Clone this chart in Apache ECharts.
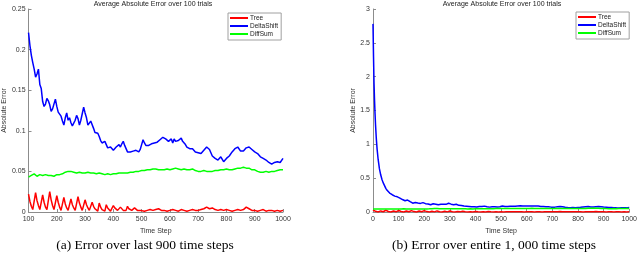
<!DOCTYPE html>
<html><head><meta charset="utf-8">
<script src="https://cdn.jsdelivr.net/npm/echarts@6/dist/echarts.min.js"></script>
<style>html,body{margin:0;padding:0;background:#fff}#c{width:640px;height:257px}</style>
</head><body><div id="c"></div>
<script>
// ---------- data ----------
const seriesNames = ['Tree', 'DeltaShift', 'DiffSum'];
const chartTitle = 'Average Absolute Error over 100 trials';
const captionA = '(a) Error over last 900 time steps';
const captionB = '(b) Error over entire 1, 000 time steps';

// DeltaShift, steps 100..695 every 5
const deltaShiftA = [
 .221,.205,.193,.184,.176,.166,.170,.176,.157,.152,
 .136,.130,.133,.140,.137,.132,.124,.127,.128,.139,
 .130,.123,.121,.118,.112,.107,.116,.122,.113,.116,
 .110,.106,.108,.113,.119,.115,.107,.113,.121,.129,
 .122,.116,.107,.106,.112,.114,.103,.098,.097,.097,
 .093,.088,.085,.086,.087,.083,.079,.078,.080,.079,
 .076,.075,.080,.082,.083,.080,.084,.087,.082,.078,
 .074,.072,.074,.076,.075,.077,.076,.075,.074,.077,
 .083,.089,.085,.082,.084,.082,.081,.084,.082,.085,
 .087,.086,.085,.089,.091,.092,.091,.090,.089,.087,
 .089,.090,.085,.090,.087,.087,.088,.090,.091,.087,
 .085,.083,.080,.081,.078,.079,.078,.076,.074,.072];
// DeltaShift, steps 700..1000 every 10
const deltaShiftB = [
 .073,.072,.076,.080,.077,.069,.066,.064,.068,.062,
 .066,.069,.074,.078,.080,.075,.075,.079,.080,.077,
 .074,.072,.068,.066,.064,.061,.059,.061,.062,.061,
 .066];
// DiffSum, steps 100..1000 every 10
const diffSumLate = [
 .043,.045,.047,.044,.046,.045,.046,.045,.045,.044,
 .046,.046,.047,.049,.050,.050,.049,.048,.049,.048,
 .048,.049,.048,.048,.047,.048,.047,.046,.047,.046,
 .047,.047,.048,.048,.048,.048,.049,.049,.050,.050,
 .051,.051,.052,.052,.053,.053,.052,.052,.052,.053,
 .052,.053,.054,.053,.052,.053,.052,.052,.053,.051,
 .050,.050,.051,.050,.050,.050,.051,.051,.052,.052,
 .053,.052,.052,.053,.054,.054,.055,.054,.054,.052,
 .052,.050,.049,.049,.050,.049,.050,.050,.051,.052,
 .052];
// Tree, steps 100..495 every 5
const treeTeeth = [
 .022,.013,.007,.003,.001, .024,.014,.008,.003,.001,
 .021,.012,.006,.003,.001, .025,.015,.008,.003,.001,
 .020,.012,.006,.002,.001, .018,.010,.005,.002,.001,
 .016,.009,.005,.002,.001, .019,.011,.006,.002,.001,
 .015,.009,.005,.002,.001, .012,.007,.004,.002,.001,
 .011,.006,.003,.002,.001, .009,.005,.003,.001,.001,
 .008,.005,.003,.002,.001, .006,.004,.002,.001,.002,
 .007,.004,.002,.002,.001, .005,.003,.002,.001,.002];
// Tree, steps 500..1000 every 10
const treeTail = [
 .002,.001,.002,.003,.002,.003,.004,.002,.002,.001,
 .002,.003,.002,.001,.003,.002,.001,.002,.003,.002,
 .002,.003,.004,.006,.004,.005,.003,.002,.003,.002,
 .003,.002,.001,.002,.003,.002,.003,.006,.004,.002,
 .002,.001,.002,.003,.001,.002,.002,.001,.002,.001,
 .002];
// early part (right chart only)
const deltaShiftEarlySteps = [0,2,4,6,8,10,13,16,20,25,30,35,40,45,50,55,60,65,70,75,80,85,90,95];
const deltaShiftEarly = [2.78,2.3,1.9,1.65,1.45,1.28,1.08,0.93,0.78,0.64,0.55,0.48,0.43,0.39,0.35,0.32,0.30,0.28,0.265,0.255,0.245,0.235,0.228,0.224];
// Tree steps 0..95 every 5
const treeEarly = [.030,.018,.010,.004,.001, .028,.016,.009,.004,.001, .026,.015,.008,.003,.001, .024,.014,.008,.003,.001];
// DiffSum steps 0..90 every 10
const diffSumEarly = [.046,.045,.044,.045,.044,.045,.044,.045,.044,.044];

const leftYTicks = {min: 0, max: 0.25, interval: 0.05};
const rightYTicks = {min: 0, max: 3, interval: 0.5};

// ---------- helpers ----------
function seq(start, step, ys) { return ys.map((y, i) => [start + i * step, y]); }
function zip(xs, ys) { return ys.map((y, i) => [xs[i], y]); }

const treeLeft = seq(100, 5, treeTeeth).concat(seq(500, 10, treeTail));
const deltaLeft = seq(100, 5, deltaShiftA).concat(seq(700, 10, deltaShiftB));
const diffLeft = seq(100, 10, diffSumLate);

const treeRight = seq(0, 5, treeEarly).concat(treeLeft);
const deltaRight = zip(deltaShiftEarlySteps, deltaShiftEarly).concat(deltaLeft);
const diffRight = seq(0, 10, diffSumEarly).concat(diffLeft);

const colors = ['#ff0000', '#0000ff', '#00ff00'];
const axisGray = '#8c8c8c';
const labelColor = '#333';
const F = 'Liberation Sans, Arial, sans-serif';

function xAx(idx, min) {
  return {
    type: 'value', gridIndex: idx, min: min, max: 1000, interval: 100,
    name: 'Time Step', nameLocation: 'middle', nameGap: 11,
    nameTextStyle: {fontSize: 7, color: labelColor, fontFamily: F},
    axisLine: {show: true, onZero: false, lineStyle: {color: axisGray, width: 1}},
    axisTick: {show: true, inside: true, length: 3, lineStyle: {color: axisGray}},
    axisLabel: {fontSize: 7, color: labelColor, margin: 4, fontFamily: F, formatter: v => String(v)},
    splitLine: {show: false}
  };
}
function yAx(idx, t) {
  return {
    type: 'value', gridIndex: idx, min: t.min, max: t.max, interval: t.interval,
    name: 'Absolute Error', nameLocation: 'middle', nameGap: 13,
    nameTextStyle: {fontSize: 7, color: labelColor, fontFamily: F},
    axisLine: {show: true, lineStyle: {color: axisGray, width: 1}},
    axisTick: {show: true, inside: true, length: 3, lineStyle: {color: axisGray}},
    axisLabel: {fontSize: 7, color: labelColor, margin: 3, fontFamily: F, formatter: v => String(+v.toFixed(2))},
    splitLine: {show: false}
  };
}
function ser(i, idx, data) {
  return {
    name: seriesNames[i], type: 'line', xAxisIndex: idx, yAxisIndex: idx,
    data: data, showSymbol: false, symbol: 'none', animation: false,
    lineStyle: {color: colors[i], width: 1.5}, itemStyle: {color: colors[i]}
  };
}
function leg(left, top) {
  return {
    orient: 'vertical', left: left, top: top, data: seriesNames,
    backgroundColor: '#fff', borderColor: '#a0a0a0', borderWidth: 1, borderRadius: 0,
    padding: [1, 3, 2, 2], itemGap: 0, itemWidth: 18, itemHeight: 2, icon: 'rect',
    selectedMode: false,
    textStyle: {fontSize: 6.5, lineHeight: 8, color: '#222', fontFamily: F, padding: [0, 0, 0, -3]}
  };
}

const chart = echarts.init(document.getElementById('c'), null, {renderer: 'canvas'});
chart.setOption({
  animation: false,
  color: colors,
  grid: [
    {left: 23, width: 260, top: 9, height: 203},
    {left: 373, width: 259, top: 9, height: 203}
  ],
  xAxis: [xAx(0, 100), xAx(1, 0)],
  yAxis: [yAx(0, leftYTicks), yAx(1, rightYTicks)],
  legend: [leg(228, 13), leg(576, 12)],
  series: [
    ser(0, 0, treeLeft), ser(1, 0, deltaLeft), ser(2, 0, diffLeft),
    ser(0, 1, treeRight), ser(1, 1, deltaRight), ser(2, 1, diffRight)
  ],
  graphic: [
    {type: 'text', x: 153, y: 4, style: {text: chartTitle, textAlign: 'center', textVerticalAlign: 'middle', font: '7px ' + F, fill: '#222'}},
    {type: 'text', x: 502, y: 4, style: {text: chartTitle, textAlign: 'center', textVerticalAlign: 'middle', font: '7px ' + F, fill: '#222'}},
    {type: 'text', x: 145, y: 245, style: {text: captionA, textAlign: 'center', textVerticalAlign: 'middle', font: '13.5px "Liberation Serif", serif', fill: '#000'}},
    {type: 'text', x: 494, y: 245, style: {text: captionB, textAlign: 'center', textVerticalAlign: 'middle', font: '13.5px "Liberation Serif", serif', fill: '#000'}}
  ]
});
</script></body></html>
